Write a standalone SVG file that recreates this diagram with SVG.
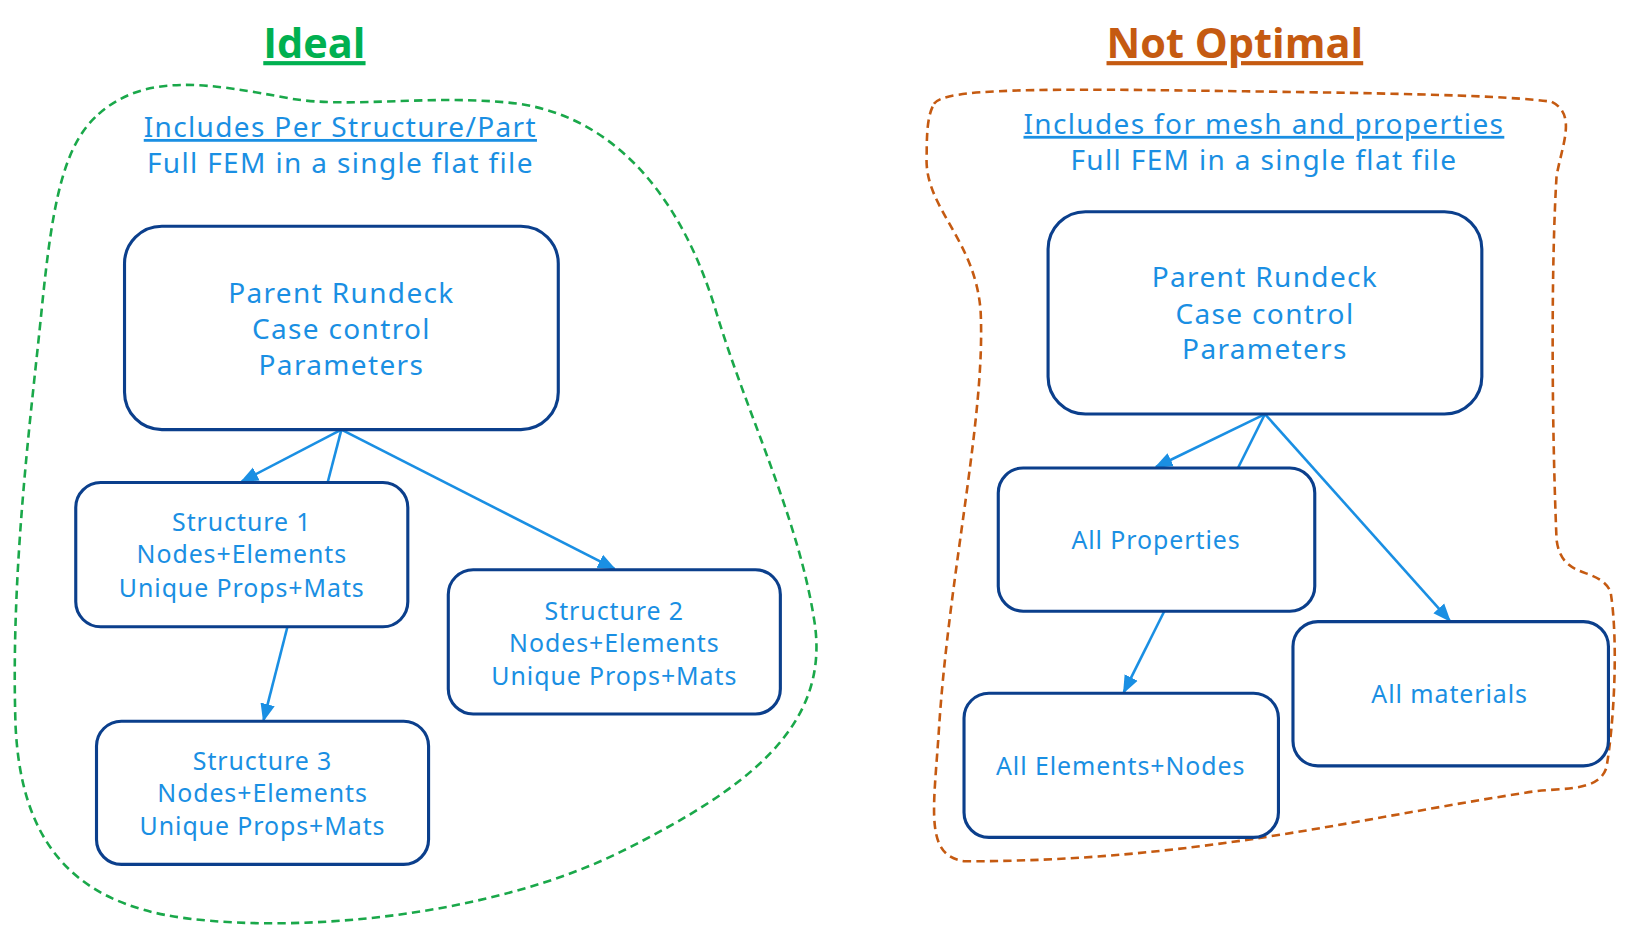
<svg xmlns="http://www.w3.org/2000/svg" width="1627" height="931" viewBox="0 0 1627 931">
<defs>
<marker id="ah" viewBox="0 0 10 10" refX="9" refY="5" markerWidth="7" markerHeight="7" orient="auto"><path d="M0,1 L10,5 L0,9 z" fill="#1a8fe3"/></marker>
<style>
.box{fill:#fff;stroke:#0b3f8c;stroke-width:3}
.t{font-family:"Noto Sans","Open Sans",sans-serif;fill:#1a8fe3;text-anchor:middle}
.big{font-size:27px;letter-spacing:1.3px}.sm{font-size:24px;letter-spacing:0.9px}
.c{stroke:#1a8fe3;stroke-width:2.5;fill:none}
.title{font-family:"Open Sans","Noto Sans",sans-serif;font-weight:bold;font-size:40px;text-anchor:middle;text-decoration:underline}
</style>
</defs>
<rect width="1627" height="931" fill="#fff"/>
<g transform="scale(1.0377)">
<text class="title" x="303" y="56" fill="#00b050">Ideal</text>
<text class="title" x="1190" y="56" fill="#c55a11">Not Optimal</text>
<path d="M95,110 C140,70 200,80 280,95 C340,105 420,90 500,100 C600,115 660,200 690,300 C720,400 770,500 785,600 C800,700 720,760 600,820 C480,880 300,900 180,885 C60,870 20,800 15,700 C10,550 30,400 40,300 C50,200 60,140 95,110 Z" fill="none" stroke="#1aa84a" stroke-width="2.5" stroke-dasharray="8,5"/>
<path d="M900,100 C910,85 1000,85 1200,88 C1350,90 1450,92 1495,98 C1520,110 1505,140 1500,170 C1495,250 1495,400 1500,520 C1505,560 1540,545 1552,570 C1560,620 1555,700 1548,740 C1540,765 1500,758 1470,764 C1300,790 1150,830 930,830 C890,825 900,780 905,700 C915,550 950,400 945,300 C940,230 890,200 893,150 C893,120 895,110 900,100 Z" fill="none" stroke="#c55a11" stroke-width="2.5" stroke-dasharray="8,5"/>
<text class="t big" x="328" y="132" text-decoration="underline">Includes Per Structure/Part</text>
<text class="t big" x="328" y="167">Full FEM in a single flat file</text>
<text class="t big" x="1218" y="129" text-decoration="underline">Includes for mesh and properties</text>
<text class="t big" x="1218" y="164">Full FEM in a single flat file</text>
<g id="connectors">
<line class="c" x1="329" y1="414" x2="233" y2="464" marker-end="url(#ah)"/>
<line class="c" x1="329" y1="414" x2="316" y2="464"/>
<line class="c" x1="329" y1="414" x2="592" y2="548" marker-end="url(#ah)"/>
<line class="c" x1="277" y1="604" x2="254" y2="694" marker-end="url(#ah)"/>
<line class="c" x1="1219" y1="399" x2="1114" y2="450" marker-end="url(#ah)"/>
<line class="c" x1="1219" y1="399" x2="1193" y2="451"/>
<line class="c" x1="1219" y1="399" x2="1397" y2="598" marker-end="url(#ah)"/>
<line class="c" x1="1122" y1="589" x2="1083" y2="667" marker-end="url(#ah)"/>
</g>
<g id="parentL"><rect class="box" x="120" y="218" width="418" height="196" rx="36"/>
<text class="t big" x="329" y="292">Parent Rundeck</text><text class="t big" x="329" y="327">Case control</text><text class="t big" x="329" y="361">Parameters</text></g>
<g id="s1"><rect class="box" x="73" y="465" width="320" height="139" rx="24"/>
<text class="t sm" x="233" y="512">Structure 1</text><text class="t sm" x="233" y="543">Nodes+Elements</text><text class="t sm" x="233" y="575">Unique Props+Mats</text></g>
<g id="s2"><rect class="box" x="432" y="549" width="320" height="139" rx="24"/>
<text class="t sm" x="592" y="597">Structure 2</text><text class="t sm" x="592" y="628">Nodes+Elements</text><text class="t sm" x="592" y="660">Unique Props+Mats</text></g>
<g id="s3"><rect class="box" x="93" y="695" width="320" height="138" rx="24"/>
<text class="t sm" x="253" y="742">Structure 3</text><text class="t sm" x="253" y="773">Nodes+Elements</text><text class="t sm" x="253" y="805">Unique Props+Mats</text></g>
<g id="parentR"><rect class="box" x="1010" y="204" width="418" height="195" rx="36"/>
<text class="t big" x="1219" y="277">Parent Rundeck</text><text class="t big" x="1219" y="312">Case control</text><text class="t big" x="1219" y="346">Parameters</text></g>
<g id="props"><rect class="box" x="962" y="451" width="305" height="138" rx="24"/>
<text class="t sm" x="1114" y="529">All Properties</text></g>
<g id="elems"><rect class="box" x="929" y="668" width="303" height="139" rx="24"/>
<text class="t sm" x="1080" y="747">All Elements+Nodes</text></g>
<g id="mats"><rect class="box" x="1246" y="599" width="304" height="139" rx="24"/>
<text class="t sm" x="1397" y="677">All materials</text></g>
</g>
</svg>
